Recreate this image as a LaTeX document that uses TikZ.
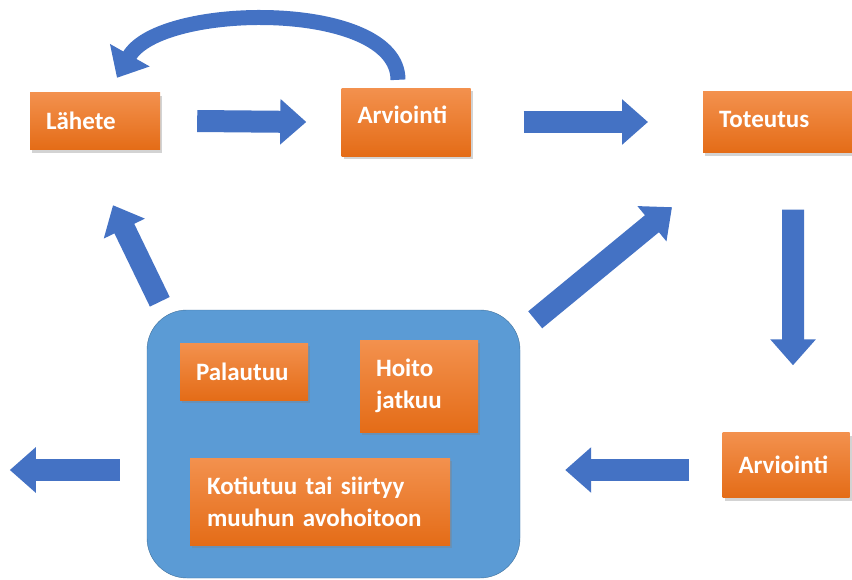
\documentclass[tikz,border=0pt]{standalone}
\usepackage{fontspec}
\setmainfont{Carlito}
\usetikzlibrary{positioning, arrows.meta, shadows}
\definecolor{stagetop}{HTML}{F3914E}
\definecolor{stagebot}{HTML}{E46C17}
\definecolor{flowblue}{HTML}{4472C4}
\definecolor{groupfill}{HTML}{5B9BD5}
\definecolor{groupline}{HTML}{41719C}
\tikzstyle{stage} = [rectangle, top color=stagetop, bottom color=stagebot, text=white,
    font=\bfseries\fontsize{25}{32}\selectfont, align=left, inner xsep=16pt,
    drop shadow={opacity=0.35, shadow xshift=2pt, shadow yshift=-3pt}]
\tikzstyle{flow} = [line width=22pt, flowblue, -{Triangle[length=26pt, width=44pt]}]

\begin{document}
\begin{tikzpicture}[x=1pt, y=-1pt]
    \useasboundingbox (0,0) rectangle (852,579);
    \node (group) [rectangle, rounded corners=40pt, fill=groupfill, draw=groupline,
        minimum width=373pt, minimum height=268pt] at (333.5,444) {};

    \node (lahete) [stage, text width=98pt, minimum height=57pt] at (95,121) {Lähete};
    \node (arvio) [stage, text width=97pt, minimum height=68pt] at (406,122)
        {\raisebox{14pt}{Arviointi}};
    \node (toteutus) [stage, text width=138pt, minimum height=61pt, anchor=west]
        at (703,122) {\raisebox{6pt}{Toteutus}};
    \node (arvio2) [stage, text width=95pt, minimum height=65pt] at (786,465) {Arviointi};

    \node (palautuu) [stage, text width=96pt, minimum height=57pt] at (244,371.5) {Palautuu};
    \node (hoito) [stage, text width=86pt, minimum height=92pt] at (419,386) {Hoito\\jatkuu};
    \node (kotiutuu) [stage, text width=226pt, inner xsep=17pt, minimum height=87pt,
        below=26pt of hoito.south, anchor=north, xshift=-99pt]
        {Kotiutuu tai siirtyy\\muuhun avohoitoon};

    \draw [flow] ([xshift=37pt]lahete.east) -- ([xshift=-35pt]arvio.west);
    \draw [flow] ([xshift=53pt]arvio.east) -- ([xshift=-55pt]toteutus.west);
    \draw [flow] ([xshift=5pt,yshift=-57pt]toteutus.south) -- ([xshift=7pt,yshift=67pt]arvio2.north);
    \draw [flow] ([xshift=-33pt,yshift=-5pt]arvio2.west) -- ([xshift=45pt,yshift=-26pt]group.east);
    \draw [flow] ([xshift=-27pt,yshift=-26pt]group.west) -- ([xshift=-137pt,yshift=-26pt]group.west);
    \draw [flow] ([xshift=13pt,yshift=8pt]group.north west) -- ([xshift=18pt,yshift=-55.5pt]lahete.south);
    \draw [flow] ([xshift=15pt,yshift=-10pt]group.north east) -- ([xshift=-31pt,yshift=-54.5pt]toteutus.south west);
    \draw [flow, line width=15pt] ([xshift=-8pt,yshift=8pt]arvio.north)
        .. controls (398,0) and (160,2) .. ([xshift=22pt,yshift=14.5pt]lahete.north);
\end{tikzpicture}
\end{document}
